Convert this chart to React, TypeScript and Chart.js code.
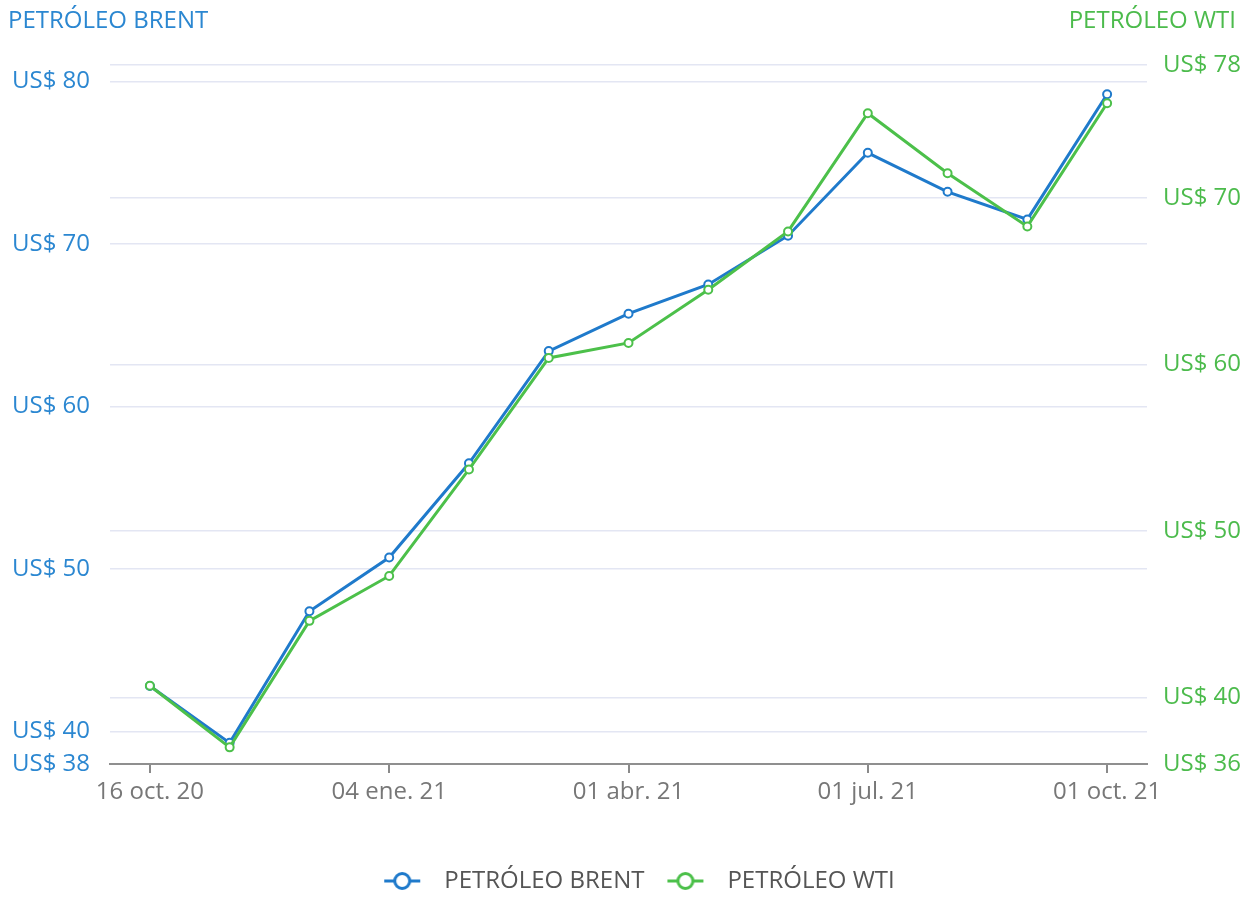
import React, { useEffect, useRef } from "react";
import { Chart, registerables } from "chart.js";

Chart.register(...registerables);

const categories = [
  "16 oct. 20", "10 nov. 20", "07 dic. 20", "04 ene. 21", "01 feb. 21", "01 mar. 21",
  "01 abr. 21", "03 may. 21", "01 jun. 21", "01 jul. 21", "02 ago. 21", "01 sep. 21", "01 oct. 21",
];
const shownLabels = ["16 oct. 20", "04 ene. 21", "01 abr. 21", "01 jul. 21", "01 oct. 21"];
const brentValues = [42.8, 39.3, 47.4, 50.7, 56.5, 63.4, 65.7, 67.5, 70.5, 75.6, 73.2, 71.5, 79.2];
const wtiValues = [40.7, 37.0, 44.6, 47.3, 53.7, 60.4, 61.3, 64.5, 68.0, 75.1, 71.5, 68.3, 75.7];
const brentTicks = [38, 40, 50, 60, 70, 80];
const wtiTicks = [36, 40, 50, 60, 70, 78];
const brentRange = [38, 81];
const wtiRange = [36, 78];
const seriesNames = ["PETRÓLEO BRENT", "PETRÓLEO WTI"];

const BLUE = "#1f7acb";
const BLUE_TEXT = "#2b87d1";
const GREEN = "#4cc04a";
const GREEN_TEXT = "#4cbb4c";
const GRID = "#e3e6f3";
const FONT = "'Open Sans', sans-serif";
const FS = 24;

function makeMarker(color: string): HTMLCanvasElement {
  const c = document.createElement("canvas");
  c.width = 65;
  c.height = 22;
  const g = c.getContext("2d")!;
  g.strokeStyle = color;
  g.lineWidth = 3;
  g.beginPath();
  g.moveTo(17, 11);
  g.lineTo(53, 11);
  g.stroke();
  g.beginPath();
  g.arc(35, 11, 7.5, 0, Math.PI * 2);
  g.fillStyle = "#ffffff";
  g.fill();
  g.stroke();
  return c;
}

const titlesPlugin = {
  id: "axisTitles",
  afterDraw(chart: any) {
    const ctx = chart.ctx;
    ctx.save();
    ctx.font = `${FS}px ${FONT}`;
    ctx.textBaseline = "middle";
    ctx.fillStyle = BLUE_TEXT;
    ctx.textAlign = "left";
    ctx.fillText(seriesNames[0], 8, 21);
    ctx.fillStyle = GREEN_TEXT;
    ctx.textAlign = "right";
    ctx.fillText(seriesNames[1], 1236, 21);
    ctx.restore();
  },
};

export default function App() {
  const ref = useRef<HTMLCanvasElement | null>(null);

  useEffect(() => {
    if (!ref.current) return;
    const colors = [BLUE, GREEN];
    const chart = new Chart(ref.current, {
      type: "line",
      data: {
        labels: categories,
        datasets: [
          {
            label: seriesNames[0],
            data: brentValues,
            yAxisID: "y",
            borderColor: BLUE,
            backgroundColor: "#ffffff",
            borderWidth: 3,
            pointRadius: 4,
            pointBorderWidth: 2,
            pointBackgroundColor: "#ffffff",
            pointBorderColor: BLUE,
            tension: 0,
            order: 2,
          },
          {
            label: seriesNames[1],
            data: wtiValues,
            yAxisID: "y1",
            borderColor: GREEN,
            backgroundColor: "#ffffff",
            borderWidth: 3,
            pointRadius: 4,
            pointBorderWidth: 2,
            pointBackgroundColor: "#ffffff",
            pointBorderColor: GREEN,
            tension: 0,
            order: 1,
          },
        ],
      },
      options: {
        animation: false,
        responsive: false,
        maintainAspectRatio: false,
        layout: { padding: { left: 12, right: 0, top: 65, bottom: 1 } },
        plugins: {
          tooltip: { enabled: false },
          legend: {
            position: "bottom",
            labels: {
              usePointStyle: true,
              pointStyleWidth: 65,
              boxHeight: 20,
              padding: 6,
              color: "#555555",
              font: { family: FONT, size: FS },
              generateLabels: (ch: any) =>
                ch.data.datasets.map((ds: any, i: number) => ({
                  text: ds.label,
                  fillStyle: "#fff",
                  strokeStyle: colors[i],
                  lineWidth: 0,
                  pointStyle: makeMarker(colors[i]),
                  hidden: false,
                  datasetIndex: i,
                  fontColor: "#555555",
                })),
            },
          },
        },
        scales: {
          x: {
            type: "category",
            offset: true,
            grid: {
              drawOnChartArea: false,
              drawTicks: true,
              tickLength: 9,
              lineWidth: 2,
              color: (ctx: any) =>
                shownLabels.includes(categories[ctx.index]) ? "#8a8a8a" : "rgba(0,0,0,0)",
            },
            border: { color: "#8f8f8f", width: 2 },
            ticks: {
              autoSkip: false,
              maxRotation: 0,
              padding: 5,
              color: "#777777",
              font: { family: FONT, size: FS },
              callback: (_v: any, i: number) =>
                shownLabels.includes(categories[i]) ? categories[i] : "",
            },
            afterFit: (s: any) => {
              s.height = 99;
            },
          },
          y: {
            position: "left",
            min: brentRange[0],
            max: brentRange[1],
            afterBuildTicks: (s: any) => {
              s.ticks = brentTicks.map((v) => ({ value: v }));
            },
            grid: { color: GRID, lineWidth: 1.5, drawTicks: false },
            border: { display: false },
            ticks: {
              crossAlign: "far",
              padding: 0,
              color: BLUE_TEXT,
              font: { family: FONT, size: FS },
              callback: (v: any) => "US$ " + v,
            },
            afterFit: (s: any) => {
              s.width = 98;
            },
          },
          y1: {
            position: "right",
            min: wtiRange[0],
            max: wtiRange[1],
            afterBuildTicks: (s: any) => {
              s.ticks = wtiTicks.map((v) => ({ value: v }));
            },
            grid: { color: GRID, lineWidth: 1.5, drawTicks: false },
            border: { display: false },
            ticks: {
              padding: 16,
              color: GREEN_TEXT,
              font: { family: FONT, size: FS },
              callback: (v: any) => "US$ " + v,
            },
            afterFit: (s: any) => {
              s.width = 103;
            },
          },
        },
      },
      plugins: [titlesPlugin],
    } as any);
    return () => chart.destroy();
  }, []);

  return (
    <div style={{ position: "absolute", left: 0, top: 0, width: 1250, height: 904, background: "#fff" }}>
      <canvas ref={ref} width={1250} height={904} style={{ display: "block" }} />
    </div>
  );
}
